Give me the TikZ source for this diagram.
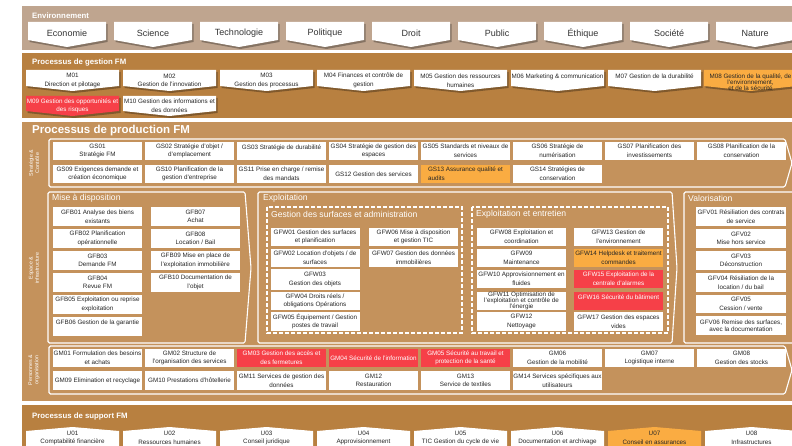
\documentclass[tikz,border=0pt]{standalone}
\usepackage{fontspec}
\setmainfont{Liberation Sans}

\definecolor{envtan}{RGB}{191,165,143}
\definecolor{fmbrown}{RGB}{184,128,64}
\definecolor{prodtan}{RGB}{196,146,92}
\definecolor{hlorange}{RGB}{250,172,66}
\definecolor{hlred}{RGB}{246,64,72}

\tikzset{
  boxtext/.style={font=\fontsize{6.3}{8.6}\selectfont, text=black!85, align=center, inner sep=0pt},
  procbox/.style={boxtext, fill=white, minimum width=89, minimum height=18.5},
  orangebox/.style={procbox, fill=hlorange},
  redbox/.style={procbox, fill=hlred, text=white},
  frameline/.style={draw=white, line width=1.1pt, rounded corners=1.5pt},
  dashframe/.style={draw=white, line width=1.4pt, dash pattern=on 4pt off 2pt},
  bandtitle/.style={anchor=west, inner sep=0pt, text=white, font=\bfseries\fontsize{7.8}{9}\selectfont},
  areatitle/.style={anchor=west, inner sep=0pt, text=white, font=\fontsize{8.6}{10}\selectfont},
  sidelabel/.style={rotate=90, align=center, inner sep=0pt, text=white, font=\fontsize{5.3}{6.2}\selectfont},
  envlabel/.style={inner sep=0pt, text=black!80, font=\fontsize{9}{10}\selectfont},
  shadowfill/.style={fill=black, opacity=0.3}
}

\begin{document}
\begin{tikzpicture}[x=1pt, y=-1pt]
\useasboundingbox (0,0) rectangle (792,446);
\clip (0,0) rectangle (792,446);
\fill[white] (0,0) rectangle (792,446);

% bands
\fill[envtan] (22,6) rectangle (800,50);
\fill[fmbrown] (22,53) rectangle (800,118);
\fill[prodtan] (22,122) rectangle (800,401);
\fill[fmbrown] (22,405) rectangle (800,450);

\node[bandtitle] (envtitle) at (32,15.5) {Environnement};
\node[bandtitle] (gestitle) at (32,62.5) {Processus de gestion FM};
\node[bandtitle, font=\bfseries\fontsize{11.5}{13}\selectfont] (prodtitle) at (32,131) {Processus de production FM};
\node[bandtitle] (suptitle) at (32,416) {Processus de support FM};

% environnement
\foreach \lab [count=\i from 0] in {Economie,Science,Technologie,Politique,Droit,Public,Éthique,Société,Nature}{
  \fill[shadowfill] (29.5+86*\i,24) -- ++(78,0) -- ++(0,18) -- ++(-39,7) -- ++(-39,-7) -- cycle;
  \fill[white] (28+86*\i,22) -- ++(78,0) -- ++(0,18) -- ++(-39,7) -- ++(-39,-7) -- cycle;
  \node[envlabel] (env\i) at (67+86*\i,33.5) {\lab};
}

% gestion FM
\foreach \nm/\txt [count=\i from 0] in {m01/{M01\\Direction et pilotage}, m02/{M02\\Gestion de l'innovation}, m03/{M03\\Gestion des processus}, m04/{M04 Finances et contrôle de\\gestion}, m05/{M05 Gestion des ressources\\humaines}, m06/{M06 Marketing \& communication\\\mbox{}}, m07/{M07 Gestion de la durabilité\\\mbox{}}}{
  \fill[shadowfill] (27.5+97*\i,72) -- ++(93,0) -- ++(0,16) -- ++(-46.5,5) -- ++(-46.5,-5) -- cycle;
  \fill[white] (26+97*\i,70) -- ++(93,0) -- ++(0,16) -- ++(-46.5,5) -- ++(-46.5,-5) -- cycle;
  \node[boxtext] (\nm) at (72.5+97*\i,80.5) {\txt};
}
\fill[shadowfill] (705.5,72) -- ++(93,0) -- ++(0,16) -- ++(-46.5,5) -- ++(-46.5,-5) -- cycle;
\fill[hlorange] (704,70) -- ++(93,0) -- ++(0,16) -- ++(-46.5,5) -- ++(-46.5,-5) -- cycle;
\node[boxtext, font=\fontsize{6.3}{5.6}\selectfont] (m08) at (750.5,82) {M08 Gestion de la qualité, de\\l'environnement,\\et de la sécurité};

\fill[shadowfill] (27.5,98) -- ++(93,0) -- ++(0,15) -- ++(-46.5,5) -- ++(-46.5,-5) -- cycle;
\fill[hlred] (26,96) -- ++(93,0) -- ++(0,15) -- ++(-46.5,5) -- ++(-46.5,-5) -- cycle;
\node[boxtext, text=white] (m09) at (72.5,106) {M09 Gestion des opportunités et\\des risques};
\fill[shadowfill] (124.5,98) -- ++(93,0) -- ++(0,15) -- ++(-46.5,5) -- ++(-46.5,-5) -- cycle;
\fill[white] (123,96) -- ++(93,0) -- ++(0,15) -- ++(-46.5,5) -- ++(-46.5,-5) -- cycle;
\node[boxtext] (m10) at (169.5,106) {M10 Gestion des informations et\\des données};

% production FM
\node[sidelabel] (strat) at (34,163) {Stratégie \&\\Contrôle};
\node[sidelabel] (espace) at (34,268) {Espace \&\\infrastructure};
\node[sidelabel] (pers) at (34,370) {Personnes \&\\organisation};

% strategie et controle
\draw[frameline] (49,139) -- (785,139) -- (792,163) -- (785,187) -- (49,187) -- cycle;
\node[procbox] (gs01) at (97.5,151) {GS01\\Stratégie FM};
\node[procbox] (gs02) at (189.5,151) {GS02 Stratégie d'objet /\\d'emplacement};
\node[procbox] (gs03) at (281.5,151) {GS03 Stratégie de durabilité\\\mbox{}};
\node[procbox] (gs04) at (373.5,151) {GS04 Stratégie de gestion des\\espaces};
\node[procbox] (gs05) at (465.5,151) {GS05 Standards et niveaux de\\services};
\node[procbox] (gs06) at (557.5,151) {GS06 Stratégie de\\numérisation};
\node[procbox] (gs07) at (649.5,151) {GS07 Planification des\\investissements};
\node[procbox] (gs08) at (741.5,151) {GS08 Planification de la\\conservation};
\node[procbox] (gs09) at (97.5,174) {GS09 Exigences demande et\\création économique};
\node[procbox] (gs10) at (189.5,174) {GS10 Planification de la\\gestion d'entreprise};
\node[procbox] (gs11) at (281.5,174) {GS11 Prise  en charge / remise\\des mandats};
\node[procbox] (gs12) at (373.5,174) {GS12 Gestion des services};
\node[orangebox, align=left] (gs13) at (465.5,174) {GS13 Assurance  qualité et\\audits};
\node[procbox] (gs14) at (557.5,174) {GS14 Stratégies de\\conservation};

% mise a disposition
\draw[frameline] (48,192) -- (245,192) -- (251,268) -- (245,343) -- (48,343) -- cycle;
\node[areatitle] (misetitle) at (52,198) {Mise à disposition};
\node[procbox] (gfb01) at (97.5,216.5) {GFB01 Analyse des biens\\existants};
\node[procbox] (gfb02) at (97.5,238.5) {GFB02 Planification\\opérationnelle};
\node[procbox] (gfb03) at (97.5,260.5) {GFB03\\Demande FM};
\node[procbox] (gfb04) at (97.5,282.5) {GFB04\\Revue FM};
\node[procbox] (gfb05) at (97.5,304.5) {GFB05 Exploitation ou reprise\\exploitation};
\node[procbox] (gfb06) at (97.5,326.5) {GFB06 Gestion de la garantie\\\mbox{}};
\node[procbox] (gfb07) at (195.5,216.5) {GFB07\\Achat};
\node[procbox] (gfb08) at (195.5,238.5) {GFB08\\Location / Bail};
\node[procbox] (gfb09) at (195.5,260.5) {GFB09 Mise en place de\\l'exploitation immobilière};
\node[procbox] (gfb10) at (195.5,282.5) {GFB10 Documentation de\\l'objet};

% exploitation
\draw[frameline] (258,192) -- (672,192) -- (677,268) -- (672,343) -- (258,343) -- cycle;
\node[areatitle] (exptitle) at (263,198) {Exploitation};
\draw[dashframe] (267,207) rectangle (462,333);
\node[areatitle] (surftitle) at (271,214) {Gestion des surfaces et administration};
\draw[dashframe] (472,207) rectangle (668,333);
\node[areatitle] (entrtitle) at (476,214) {Exploitation et entretien};

\node[procbox] (gfw01) at (315,237) {GFW01  Gestion des surfaces\\et planification};
\node[procbox] (gfw02) at (315,258) {GFW02  Location d'objets / de\\surfaces};
\node[procbox, minimum height=20.5] (gfw03) at (315,279.5) {GFW03\\Gestion des objets};
\node[procbox] (gfw04) at (315,301) {GFW04  Droits réels /\\obligations Opérations};
\node[procbox] (gfw05) at (315,321.5) {GFW05  Équipement / Gestion\\postes de travail};
\node[procbox] (gfw06) at (413.5,237) {GFW06  Mise à disposition\\et gestion TIC};
\node[procbox] (gfw07) at (413.5,258) {GFW07  Gestion des données\\immobilières};

\node[procbox] (gfw08) at (521.5,237) {GFW08  Exploitation et\\coordination};
\node[procbox] (gfw09) at (521.5,258) {GFW09\\Maintenance};
\node[procbox] (gfw10) at (521.5,279) {GFW10  Approvisionnement en\\fluides};
\node[procbox, font=\fontsize{6.3}{6.1}\selectfont] (gfw11) at (521.5,301) {GFW11  Optimisation de\\l'exploitation et contrôle de\\l'énergie};
\node[procbox] (gfw12) at (521.5,321.5) {GFW12\\Nettoyage};
\node[procbox] (gfw13) at (618.5,237) {GFW13  Gestion de\\l'environnement};
\node[orangebox] (gfw14) at (618.5,258) {GFW14  Helpdesk et traitement\\commandes};
\node[redbox] (gfw15) at (618.5,279) {GFW15  Exploitation de la\\centrale d'alarmes};
\node[redbox] (gfw16) at (618.5,301) {GFW16  Sécurité du bâtiment\\\mbox{}};
\node[procbox] (gfw17) at (618.5,321.5) {GFW17  Gestion des espaces\\vides};

% valorisation
\draw[frameline] (684,192) rectangle (800,343);
\node[areatitle] (valtitle) at (688,198) {Valorisation};
\node[procbox, minimum width=90] (gfv01) at (741,216.5) {GFV01 Résiliation des contrats\\de service};
\node[procbox, minimum width=90] (gfv02) at (741,238.5) {GFV02\\Mise hors service};
\node[procbox, minimum width=90] (gfv03) at (741,260.5) {GFV03\\Déconstruction};
\node[procbox, minimum width=90] (gfv04) at (741,282.5) {GFV04 Résiliation de la\\location / du bail};
\node[procbox, minimum width=90] (gfv05) at (741,304) {GFV05\\Cession / vente};
\node[procbox, minimum width=90, font=\fontsize{6.3}{7.4}\selectfont] (gfv06) at (741,325.5) {GFV06 Remise des surfaces,\\avec la documentation};

% personnes et organisation
\draw[frameline] (49,346) -- (785,346) -- (792,370) -- (785,394) -- (49,394) -- cycle;
\node[procbox] (gm01) at (97.5,358) {GM01 Formulation des besoins\\et achats};
\node[procbox] (gm02) at (189.5,358) {GM02 Structure de\\l'organisation des services};
\node[redbox] (gm03) at (281.5,358) {GM03 Gestion des accès et\\des fermetures};
\node[redbox] (gm04) at (373.5,358) {GM04 Sécurité de l'information};
\node[redbox] (gm05) at (465.5,358) {GM05 Sécurité au travail et\\protection de la santé};
\node[procbox] (gm06) at (557.5,358) {GM06\\Gestion de la mobilité};
\node[procbox] (gm07) at (649.5,358) {GM07\\Logistique interne};
\node[procbox] (gm08) at (741.5,358) {GM08\\Gestion des stocks};
\node[procbox] (gm09) at (97.5,380.5) {GM09 Elimination et recyclage};
\node[procbox] (gm10) at (189.5,380.5) {GM10 Prestations d'hôtellerie};
\node[procbox] (gm11) at (281.5,380.5) {GM11 Services de gestion des\\données};
\node[procbox] (gm12) at (373.5,380.5) {GM12\\Restauration};
\node[procbox] (gm13) at (465.5,380.5) {GM13\\Service de textiles};
\node[procbox] (gm14) at (557.5,380.5) {GM14 Services spécifiques aux\\utilisateurs};

% support FM
\foreach \nm/\txt/\col [count=\i from 0] in {u01/{U01\\Comptabilité financière}/white, u02/{U02\\Ressources  humaines}/white, u03/{U03\\Conseil juridique}/white, u04/{U04\\Approvisionnement}/white, u05/{U05\\TIC Gestion du cycle de vie}/white, u06/{U06\\Documentation et archivage}/white, u07/{U07\\Conseil en assurances}/hlorange, u08/{U08\\Infrastructures}/white}{
  \fill[\col] (26+97*\i,431) -- ++(46.5,-4) -- ++(46.5,4) -- ++(0,20) -- ++(-93,0) -- cycle;
  \node[boxtext] (\nm) at (72.5+97*\i,438) {\txt};
}

\end{tikzpicture}
\end{document}
